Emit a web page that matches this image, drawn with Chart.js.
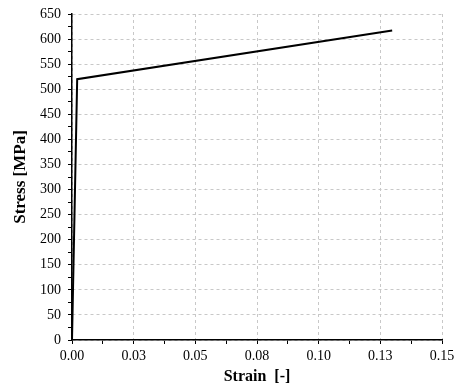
<!DOCTYPE html>
<html>
<head>
<meta charset="utf-8">
<script src="https://cdn.jsdelivr.net/npm/chart.js@4/dist/chart.umd.min.js"></script>
<style>
  body { margin: 0; background: #fff; }
  #wrap { width: 455px; height: 389px; }
</style>
</head>
<body>
<div id="wrap"><canvas id="myChart"></canvas></div>
<script>
const strain = [0, 0.0021, 0.1298];
const stress = [0, 520, 617];
const xTickLabels = ["0.00", "0.03", "0.05", "0.08", "0.10", "0.13", "0.15"];
const yTickLabels = ["0", "50", "100", "150", "200", "250", "300", "350", "400", "450", "500", "550", "600", "650"];

document.addEventListener("DOMContentLoaded", chart);

function chart() {
  const ctx = document.getElementById("myChart");
  const family = "'Liberation Serif', 'Times New Roman', serif";
  const tickFont = { family: family, size: 14 };
  // only every other tick gets a grid line and a label (the others are minor ticks)
  const gridColor = (c) => (c.index % 2 === 0 ? "#c8c8c8" : "rgba(0,0,0,0)");

  new Chart(ctx, {
    type: "scatter",
    data: {
      datasets: [
        {
          data: strain.map((s, i) => ({ x: s, y: stress[i] })),
          showLine: true,
          borderColor: "#000",
          borderWidth: 2,
          pointRadius: 0,
          tension: 0,
        },
      ],
    },
    options: {
      responsive: true,
      maintainAspectRatio: false,
      animation: false,
      layout: { padding: { top: 14, right: 13, left: 0, bottom: 0 } },
      plugins: { legend: { display: false }, tooltip: { enabled: false } },
      scales: {
        x: {
          type: "linear",
          min: 0,
          max: 0.15,
          ticks: {
            stepSize: 0.0125,
            color: "#000",
            font: tickFont,
            maxRotation: 0,
            autoSkip: false,
            padding: 4,
            callback: (v) => {
              const k = Math.round(v / 0.0125);
              return k % 2 === 0 ? xTickLabels[k / 2] : "";
            },
          },
          grid: { color: gridColor, tickColor: "#000", tickLength: 4 },
          border: { color: "#000", width: 1.5, dash: [3, 3] },
          title: {
            display: true,
            text: "Strain  [-]",
            color: "#000",
            font: { family: family, size: 16, weight: "bold" },
            padding: { top: 0, bottom: 3 },
          },
          afterFit: (s) => {
            s.height = 49;
            s.paddingLeft = 0;
            s.paddingRight = 0;
          },
        },
        y: {
          min: 0,
          max: 650,
          ticks: {
            stepSize: 25,
            color: "#000",
            font: tickFont,
            autoSkip: false,
            padding: 7,
            callback: (v) => {
              const k = Math.round(v / 25);
              return k % 2 === 0 ? yTickLabels[k / 2] : "";
            },
          },
          grid: { color: gridColor, tickColor: "#000", tickLength: 4 },
          border: { color: "#000", width: 1.5, dash: [3, 3] },
          title: {
            display: true,
            text: "Stress [MPa]",
            color: "#000",
            font: { family: family, size: 17, weight: "bold" },
            padding: { top: 10, bottom: 0 },
          },
          afterFit: (s) => {
            s.width = 72;
            s.paddingTop = 0;
            s.paddingBottom = 0;
          },
        },
      },
    },
  });
}
</script>
</body>
</html>
